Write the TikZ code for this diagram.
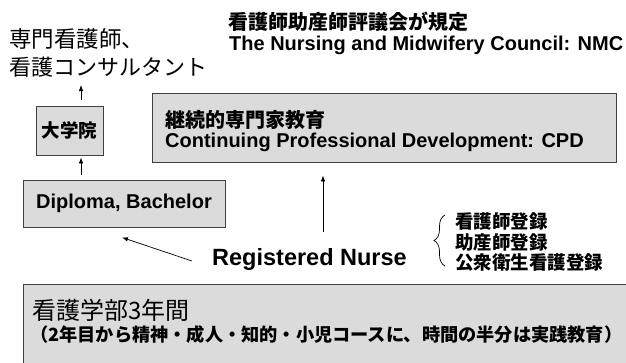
\documentclass[tikz,border=0pt]{standalone}
\usepackage{fontspec}
\setmainfont{Liberation Sans}
\newfontfamily\cjk{Noto Sans CJK JP}
\usetikzlibrary{arrows.meta,decorations.pathreplacing}

\begin{document}
\begin{tikzpicture}[x=1pt,y=-1pt,
  box/.style={draw=black!75, fill=black!14, line width=0.9pt, inner sep=0pt},
  arr/.style={-{Latex[length=6pt,width=4.5pt]}, line width=0.7pt},
  txt/.style={inner sep=0pt, anchor=base west},
  jreg/.style={font=\cjk\fontsize{#1}{#1}\selectfont},
  jbold/.style={font=\cjk\bfseries\fontsize{#1}{#1}\selectfont},
  ebold/.style={font=\bfseries\fontsize{#1}{#1}\selectfont},
]
\useasboundingbox (0,0) rectangle (626,362);
\clip (0,0) rectangle (626,362);

% boxes
\node[box, minimum width=67pt, minimum height=49pt, jbold=18.5] (dg) at (69.5,130.5) {大学院};
\node[box, minimum width=202pt, minimum height=47pt, ebold=20] (dip) at (124,203.5) {Diploma, Bachelor};
\node[box, minimum width=464pt, minimum height=69pt] (cpd) at (384,127.5) {};
\node[box, anchor=north west, minimum width=650pt, minimum height=120pt] (bot) at (23,284) {};

% texts
\node[txt, jreg=22.5] (spec1) at (9,47) {専門看護師、};
\node[txt, jreg=22] (spec2) at (9,75) {看護コンサルタント};
\node[txt, jbold=20] (hdr1) at (228,29) {看護師助産師評議会が規定};
\node[txt, ebold=20] (hdr2) at (229,50) {The Nursing and Midwifery Council: NMC};
\node[txt, jbold=20] (cpd1) at (165,127) {継続的専門家教育};
\node[txt, ebold=20] (cpd2) at (165,147.5) {Continuing Professional Development: CPD};
\node[txt, ebold=23.5] (rn) at (212,265) {Registered Nurse};
\node[txt, jbold=18.5] (reg1) at (455,228) {看護師登録};
\node[txt, jbold=18.5] (reg2) at (455,249.5) {助産師登録};
\node[txt, jbold=18.5] (reg3) at (455,269.5) {公衆衛生看護登録};
\node[txt, jreg=24] (b1) at (32,319) {看護学部3年間};
\node[txt, jbold=18.2] (b2) at (30,341) {（2年目から精神・成人・知的・小児コースに、時間の半分は実践教育）};

% connectors
\coordinate (ax) at ([xshift=11.5pt]dg.north);
\coordinate (bx) at ([xshift=11.5pt]dg.south);
\draw[arr, shorten <=6pt, shorten >=8pt] (ax) -- (ax |- spec2.south);
\draw[arr, shorten <=5pt, shorten >=2pt] (dip.north -| bx) -- (bx);
\draw[arr] ([xshift=-20pt,yshift=4pt]rn.base west) -- ([xshift=-2pt,yshift=-10pt]dip.south);
\coordinate (up) at (323,232);
\draw[arr, shorten >=13pt] (up) -- (up |- cpd.south);
\draw[decorate, decoration={brace, amplitude=11pt}, line width=0.7pt] (445,266) -- (445,215);
\end{tikzpicture}
\end{document}
